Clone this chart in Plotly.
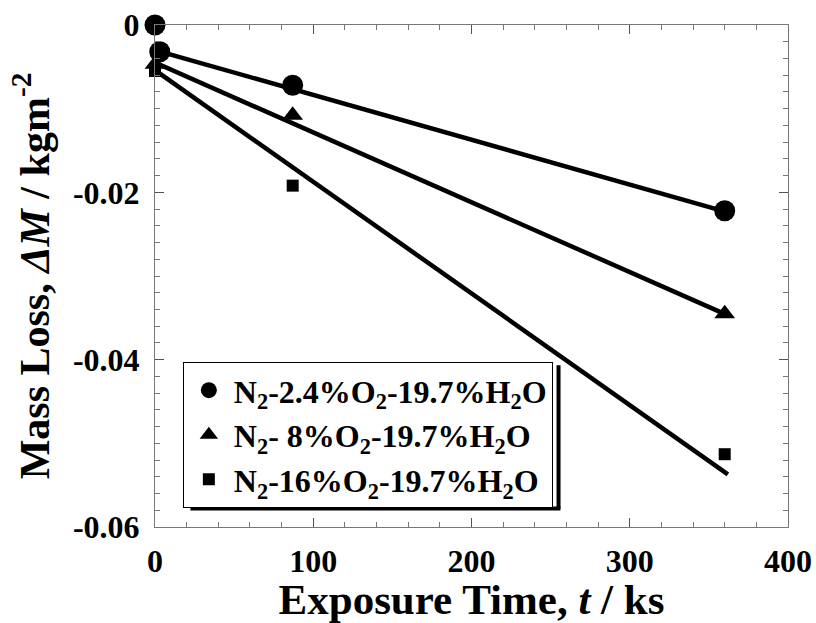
import plotly.graph_objects as go

# ---- data ----
series_names = ["N<sub>2</sub>-2.4%O<sub>2</sub>-19.7%H<sub>2</sub>O",
                "N<sub>2</sub>- 8%O<sub>2</sub>-19.7%H<sub>2</sub>O",
                "N<sub>2</sub>-16%O<sub>2</sub>-19.7%H<sub>2</sub>O"]
circle_t = [0, 3, 87, 360]
circle_dm = [0.0, -0.0032, -0.0072, -0.0222]
triangle_t = [0, 87, 360]
triangle_dm = [-0.0047, -0.0108, -0.0345]
square_t = [0, 87, 360]
square_dm = [-0.0055, -0.0192, -0.0513]
# linear fits (start / end of fitted lines)
fit_t = [0, 362]
fit_circle = [-0.0030, -0.0224]
fit_triangle = [-0.0045, -0.0347]
fit_square = [-0.0054, -0.0537]

x_ticks = [0, 100, 200, 300, 400]
y_ticks = [0, -0.02, -0.04, -0.06]
y_ticklabels = ["0", "-0.02", "-0.04", "-0.06"]

FONT = "Liberation Serif"

fig = go.Figure()
for fy in [fit_circle, fit_triangle, fit_square]:
    fig.add_trace(go.Scatter(x=fit_t, y=fy, mode="lines",
                             line=dict(color="black", width=4.5),
                             showlegend=False, hoverinfo="skip", cliponaxis=False))

fig.add_trace(go.Scatter(x=circle_t, y=circle_dm, mode="markers", name=series_names[0],
                         marker=dict(symbol="circle", size=21, color="black"), cliponaxis=False))
fig.add_trace(go.Scatter(x=triangle_t, y=triangle_dm, mode="markers", name=series_names[1],
                         marker=dict(symbol="triangle-up", size=18, color="black"), cliponaxis=False))
fig.add_trace(go.Scatter(x=square_t, y=square_dm, mode="markers", name=series_names[2],
                         marker=dict(symbol="square", size=12, color="black"), cliponaxis=False))

axis_common = dict(showgrid=False, zeroline=False, showline=True, linecolor="#777",
                   linewidth=1, mirror="allticks", ticks="inside", ticklen=9,
                   tickcolor="#555", tickwidth=1, automargin=False,
                   tickfont=dict(family=FONT, size=32, color="black", weight="bold"))

fig.update_layout(
    width=816, height=623,
    margin=dict(l=155, r=28, t=25, b=96),
    plot_bgcolor="white", paper_bgcolor="white",
    xaxis=dict(range=[0, 400], tickvals=x_ticks,
               minor=dict(dtick=20, ticks="inside", ticklen=5, tickcolor="#777"),
               title=dict(text="Exposure Time, <i>t</i> / ks",
                          font=dict(family=FONT, size=43, color="black", weight="bold"),
                          standoff=2),
               ticklabelstandoff=6,
               **axis_common),
    yaxis=dict(range=[-0.06, 0], tickvals=y_ticks, ticktext=y_ticklabels,
               minor=dict(dtick=0.002, ticks="inside", ticklen=5, tickcolor="#777"),
               title=dict(text="Mass Loss, <i>ΔM</i> / kgm<sup>-2</sup>",
                          font=dict(family=FONT, size=42, color="black", weight="bold"),
                          standoff=10),
               ticklabelstandoff=8,
               **axis_common),
    legend=dict(x=0.044, y=0.329, xanchor="left", yanchor="top",
                bgcolor="white", bordercolor="black", borderwidth=1,
                font=dict(family=FONT, size=32, color="black", weight="bold"),
                tracegroupgap=0, itemwidth=40),
    showlegend=True,
    shapes=[
        dict(type="line", xref="paper", yref="paper", x0=0.6375, x1=0.6375, y0=0.322, y1=0.037,
             line=dict(color="black", width=4)),
        dict(type="line", xref="paper", yref="paper", x0=0.056, x1=0.6405, y0=0.037, y1=0.037,
             line=dict(color="black", width=4)),
    ],
)

fig.write_html("out.html")
